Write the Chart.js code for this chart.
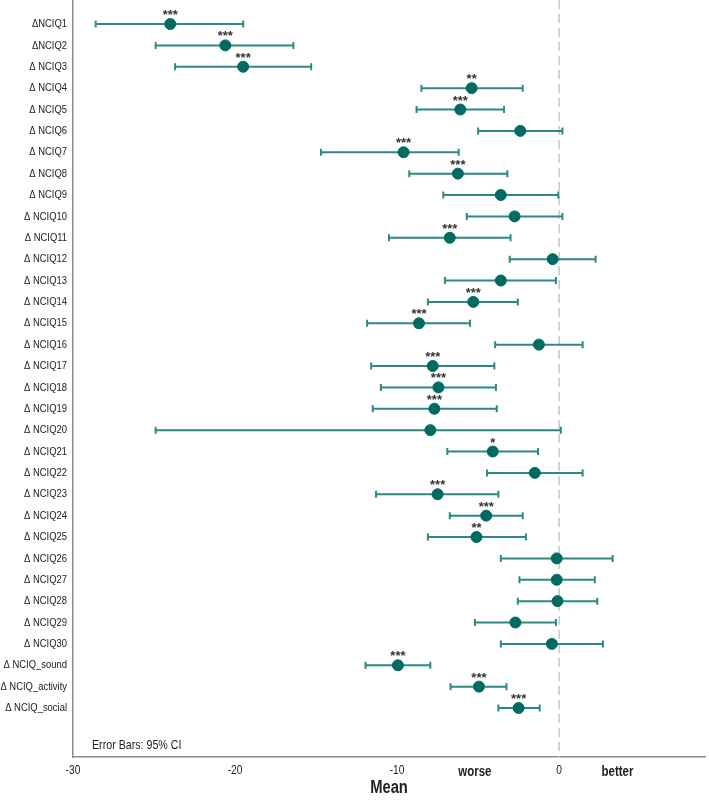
<!DOCTYPE html>
<html>
<head>
<meta charset="utf-8">
<script src="https://cdn.jsdelivr.net/npm/chart.js@4/dist/chart.umd.min.js"></script>
<style>
    html, body { margin: 0; padding: 0; background: #fff; }
    #wrap { width: 709px; height: 801px; }
</style>
</head>
<body>
<div id="wrap"><canvas id="ciChart" width="709" height="801"></canvas></div>
<script>
const labels = ["ΔNCIQ1", "ΔNCIQ2", "Δ NCIQ3", "Δ NCIQ4", "Δ NCIQ5", "Δ NCIQ6", "Δ NCIQ7", "Δ NCIQ8",
    "Δ NCIQ9", "Δ NCIQ10", "Δ NCIQ11", "Δ NCIQ12", "Δ NCIQ13", "Δ NCIQ14", "Δ NCIQ15", "Δ NCIQ16",
    "Δ NCIQ17", "Δ NCIQ18", "Δ NCIQ19", "Δ NCIQ20", "Δ NCIQ21", "Δ NCIQ22", "Δ NCIQ23", "Δ NCIQ24",
    "Δ NCIQ25", "Δ NCIQ26", "Δ NCIQ27", "Δ NCIQ28", "Δ NCIQ29", "Δ NCIQ30",
    "Δ NCIQ_sound", "Δ NCIQ_activity", "Δ NCIQ_social"];

const means = [-24.0, -20.6, -19.5, -5.4, -6.1, -2.4, -9.6, -6.25, -3.6, -2.75, -6.75, -0.4, -3.6, -5.3, -8.65, -1.25,
    -7.8, -7.45, -7.7, -7.95, -4.1, -1.5, -7.5, -4.5, -5.1, -0.15, -0.15, -0.1, -2.7, -0.45,
    -9.95, -4.95, -2.5];
const ciLow = [-28.6, -24.9, -23.7, -8.5, -8.8, -5.0, -14.7, -9.25, -7.15, -5.7, -10.5, -3.05, -7.05, -8.1, -11.85, -3.95,
    -11.6, -11.0, -11.5, -24.9, -6.9, -4.45, -11.3, -6.75, -8.1, -3.6, -2.45, -2.55, -5.2, -3.6,
    -11.95, -6.7, -3.75];
const ciHigh = [-19.5, -16.4, -15.3, -2.25, -3.4, 0.2, -6.2, -3.2, -0.05, 0.2, -3.0, 2.25, -0.2, -2.55, -5.5, 1.45,
    -4.0, -3.9, -3.85, 0.1, -1.3, 1.45, -3.75, -2.25, -2.05, 3.3, 2.2, 2.35, -0.2, 2.7,
    -7.95, -3.25, -1.2];
const stars = ["***", "***", "***", "**", "***", "", "***", "***", "", "", "***", "", "", "***", "***", "",
    "***", "***", "***", "", "*", "", "***", "***", "**", "", "", "", "", "",
    "***", "***", "***"];

const xTicks = [-30, -20, -10, 0];
const sideLabels = [{ text: "worse", value: -5.2 }, { text: "better", value: 3.6 }];

const fam = "'Liberation Sans', Arial, sans-serif";
const squeeze = 0.82; // letra estreita (tipo Arial Narrow)
const teal = "#006a63";
const tealLine = "#2b8a82";

function narrowText(ctx, text, x, y, font, align, sx) {
    ctx.save();
    ctx.font = font;
    ctx.textAlign = align;
    ctx.translate(x, y);
    ctx.scale(sx || squeeze, 1);
    ctx.fillText(text, 0, 0);
    ctx.restore();
}

// linhas de erro (IC 95%), linha do zero, asteriscos e textos
const errorBarPlugin = {
    id: 'errorBars',
    beforeDatasetsDraw(chart) {
        const ctx = chart.ctx;
        const xs = chart.scales.x;
        const ys = chart.scales.y;
        const area = chart.chartArea;

        ctx.save();
        ctx.strokeStyle = "#c8c8c8";
        ctx.lineWidth = 1.5;
        ctx.setLineDash([9, 5]);
        let x0 = xs.getPixelForValue(0);
        ctx.beginPath();
        ctx.moveTo(x0, area.top);
        ctx.lineTo(x0, area.bottom);
        ctx.stroke();
        ctx.setLineDash([]);

        ctx.strokeStyle = tealLine;
        ctx.lineWidth = 2;
        for (let i = 0; i < means.length; i++) {
            let y = ys.getPixelForValue(i);
            let xl = xs.getPixelForValue(ciLow[i]);
            let xh = xs.getPixelForValue(ciHigh[i]);
            ctx.beginPath();
            ctx.moveTo(xl, y);
            ctx.lineTo(xh, y);
            ctx.moveTo(xl, y - 3.5);
            ctx.lineTo(xl, y + 3.5);
            ctx.moveTo(xh, y - 3.5);
            ctx.lineTo(xh, y + 3.5);
            ctx.stroke();
        }
        ctx.restore();
    },
    afterDraw(chart) {
        const ctx = chart.ctx;
        const xs = chart.scales.x;
        const ys = chart.scales.y;
        const area = chart.chartArea;

        ctx.save();
        ctx.fillStyle = "#333";
        ctx.textBaseline = "alphabetic";
        for (let i = 0; i < means.length; i++) {
            if (!stars[i]) continue;
            narrowText(ctx, stars[i], xs.getPixelForValue(means[i]), ys.getPixelForValue(i) - 5,
                "bold 13px " + fam, "center", 1);
        }

        ctx.fillStyle = "#222";
        ctx.textBaseline = "middle";
        labels.forEach((l, i) => {
            narrowText(ctx, l, area.left - 6, ys.getPixelForValue(i), "11.5px " + fam, "right");
        });
        xTicks.forEach(v => {
            narrowText(ctx, String(v), xs.getPixelForValue(v), area.bottom + 14, "12.5px " + fam, "center");
        });
        sideLabels.forEach(s => {
            narrowText(ctx, s.text, xs.getPixelForValue(s.value), area.bottom + 15, "bold 14px " + fam, "center");
        });
        narrowText(ctx, "Mean", (area.left + area.right) / 2, area.bottom + 31, "bold 18px " + fam, "center");
        narrowText(ctx, "Error Bars: 95% CI", area.left + 19, area.bottom - 12, "13px " + fam, "left");
        ctx.restore();
    }
};

function initChart() {
    const ctx = document.getElementById('ciChart').getContext('2d');
    const points = means.map((m, i) => ({ x: m, y: i }));

    new Chart(ctx, {
        type: "scatter",
        data: {
            datasets: [{
                label: "Mean",
                data: points,
                backgroundColor: teal,
                borderColor: teal,
                pointRadius: 5.5,
                pointHoverRadius: 5.5
            }]
        },
        options: {
            responsive: false,
            animation: false,
            layout: { autoPadding: false, padding: { top: 0, right: 4, bottom: 0, left: 0 } },
            plugins: {
                legend: { display: false },
                tooltip: { enabled: false }
            },
            scales: {
                x: {
                    type: "linear",
                    min: -30,
                    max: 9,
                    afterBuildTicks: scale => { scale.ticks = xTicks.map(v => ({ value: v })); },
                    afterFit: scale => { scale.height = 44; },
                    grid: { display: false, drawTicks: false },
                    border: { display: true, color: "#8c8c8c", width: 1.5 },
                    ticks: { display: false }
                },
                y: {
                    type: "linear",
                    reverse: true,
                    min: -24 / 21.375,
                    max: 733 / 21.375,
                    afterBuildTicks: scale => { scale.ticks = labels.map((l, i) => ({ value: i })); },
                    afterFit: scale => { scale.width = 73; },
                    grid: { display: false, drawTicks: false },
                    border: { display: true, color: "#8c8c8c", width: 1.5 },
                    ticks: { display: false }
                }
            }
        },
        plugins: [errorBarPlugin]
    });
}

initChart();
</script>
</body>
</html>
